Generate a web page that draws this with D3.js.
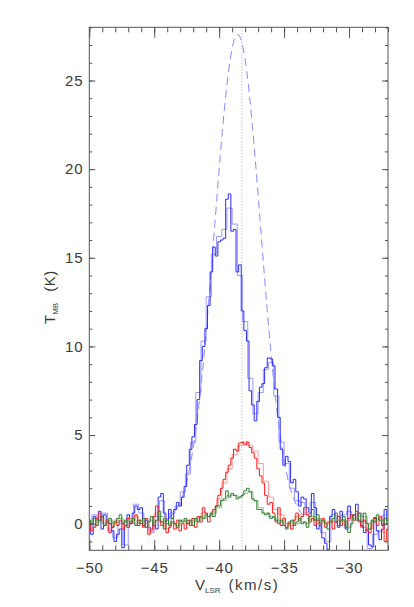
<!DOCTYPE html>
<html>
<head>
<meta charset="utf-8">
<script src="https://cdn.jsdelivr.net/npm/d3@7"></script>
<style>
html,body{margin:0;padding:0;background:#fff;}
svg text{font-family:"Liberation Sans",Arial,sans-serif;fill:#3a3a3a;}
</style>
</head>
<body>
<svg id="chart" width="414" height="607"></svg>
<script>
// ---- data ----
const chanStart = -50.0, chanStep = 0.2;        // main spectra channel grid
const lightStart = -50.0, lightStep = 0.4;      // lighter overlay spectra grid
const blueT = [0.1,-0.6,0.4,0.2,0.7,-0.3,0.5,0.1,0.0,-0.4,
  -1.0,-0.6,-0.3,-1.35,-0.1,0.5,0.0,0.6,1.0,0.8,
  0.9,-0.1,0.2,-0.2,-0.4,0.2,-0.3,1.5,1.7,0.6,
  0.0,0.8,0.3,0.8,1.2,1.0,1.5,2.1,3.3,4.2,
  4.9,5.6,7.0,9.2,10.0,11.0,12.3,14.2,15.6,15.1,
  15.9,16.0,16.1,18.3,18.6,16.5,16.6,14.2,14.6,12.0,
  10.9,10.3,7.5,6.7,5.8,6.9,7.7,7.9,8.8,9.35,
  9.3,8.9,7.6,6.0,4.2,3.3,3.8,3.5,2.3,2.5,
  1.8,1.0,1.5,1.4,0.9,0.6,1.7,0.9,-0.3,-0.1,
  -0.8,-1.1,-1.45,0.4,0.8,0.1,-0.2,0.7,0.2,-0.3,
  1.0,0.3,0.5,1.1,0.2,-0.1,-0.5,-0.3,-1.2,-1.3,
  0.35,-0.4,-0.9,-0.3,0.8,0.2];
const redT = [0.1,-0.4,-0.2,0.3,0.6,0.1,-0.1,0.2,-0.5,-0.2,
  0.1,-0.1,0.2,-0.3,0.1,0.3,0.0,0.2,0.5,-0.1,
  0.2,-0.2,0.3,-0.6,-0.3,0.4,1.0,0.2,-0.1,0.3,
  -0.5,-0.2,0.1,-0.3,0.2,-0.4,0.0,-0.3,0.2,-0.1,
  0.3,-0.2,0.4,0.1,0.9,0.6,0.1,0.5,0.8,1.0,
  1.6,2.0,2.5,2.9,3.3,3.7,4.2,4.1,4.55,4.6,
  4.45,4.6,4.3,4.0,3.7,3.1,2.7,2.3,1.6,1.1,
  1.2,0.6,0.1,0.9,-0.1,0.3,-0.2,0.1,-0.3,0.2,
  0.6,0.2,0.4,0.9,0.5,0.1,0.3,-0.1,0.2,0.0,
  0.3,-0.2,0.1,0.2,-0.3,0.1,0.4,-0.1,0.2,-0.2,
  0.3,0.5,0.2,0.7,0.1,-0.2,0.2,-0.4,-0.5,0.1,
  0.3,-0.1,0.4,0.2,-1.0,-0.3];
const greenT = [0.2,0.0,0.3,-0.1,0.2,0.4,-0.1,0.1,0.3,-0.2,
  0.1,0.3,0.5,0.0,0.2,-0.2,0.1,0.3,-0.1,0.2,
  0.0,0.3,-0.2,0.1,0.4,-0.1,0.2,0.7,0.1,-0.3,
  0.2,-0.1,0.3,0.0,-0.2,0.2,0.1,0.3,0.0,0.2,
  -0.1,0.3,0.1,0.4,0.3,0.5,0.4,0.6,0.4,1.0,
  1.0,1.3,1.4,1.85,1.5,1.7,1.6,1.4,1.5,1.6,
  1.85,2.0,1.8,1.4,1.3,0.8,0.8,0.6,0.5,0.6,
  0.3,0.4,0.2,0.0,0.2,-0.1,-0.3,0.0,0.2,-0.1,
  0.1,0.3,0.0,0.1,-0.2,0.4,0.8,0.2,0.5,-0.1,
  0.2,0.0,-0.3,0.1,0.3,0.6,-0.1,0.2,0.4,-0.2,
  -0.5,0.0,0.5,0.2,0.6,0.1,0.6,0.0,-0.3,0.2,
  0.1,0.5,0.2,-0.1,0.3,0.0];
const lightBlueT = [-0.3,0.5,0.2,0.6,-0.4,-0.8,0.1,-1.2,0.3,1.1,
  0.6,0.0,-0.5,0.4,1.3,0.3,0.6,1.0,1.8,2.8,
  4.6,7.4,10.3,12.8,15.2,16.2,16.6,17.8,16.9,14.0,
  11.4,8.2,6.2,7.4,8.7,9.1,7.2,4.6,3.4,2.0,
  1.3,1.2,0.5,1.2,0.2,-0.5,-1.0,0.5,0.1,0.5,
  0.7,0.3,0.6,-0.2,-1.4,-0.6,-0.4,0.5];
const lightRedT = [0.2,-0.1,0.4,0.0,-0.3,0.2,0.0,-0.2,0.3,0.4,
  0.0,0.1,-0.4,0.6,0.1,-0.3,0.0,-0.1,0.1,0.0,
  0.2,0.3,0.6,0.4,0.7,1.4,2.3,3.1,3.9,4.4,
  4.6,4.4,4.1,3.4,2.4,1.5,0.8,0.5,0.0,-0.1,
  0.4,0.5,0.6,0.2,0.0,0.2,0.0,0.1,0.2,0.1,
  0.2,0.4,0.5,0.1,-0.3,0.2,0.3,-0.5];
const lightGreenT = [0.1,0.2,0.1,0.0,0.2,0.0,0.3,0.1,0.2,0.0,
  0.1,0.0,0.2,0.1,0.4,0.0,0.1,0.0,0.2,0.1,
  0.1,0.2,0.3,0.4,0.6,0.9,1.3,1.6,1.6,1.5,
  1.7,1.8,1.3,0.9,0.6,0.4,0.3,0.1,0.0,0.1,
  0.0,0.1,0.0,0.4,0.3,0.1,0.0,0.2,0.2,0.2,
  -0.2,0.3,0.4,0.4,0.0,0.2,0.2,0.1];
// Gaussian fit (dashed), read at 0.5 km/s from -44 to -33
const fitV = [-44,-43.5,-43,-42.5,-42,-41.5,-41,-40.5,-40,-39.5,-39,-38.5,-38,-37.5,-37,-36.5,-36,-35.5,-35,-34.5,-34,-33.5,-33];
const fitT = [0.25,0.58,1.22,2.38,4.27,7.08,10.84,15.33,20.01,24.11,26.83,27.57,26.16,22.91,18.53,13.84,9.54,6.07,3.57,1.94,0.97,0.45,0.19];
const centerV = -38.25;
const xTicks = [-50,-45,-40,-35,-30];
const yTicks = [0,5,10,15,20,25];
const xDomain = [-50,-27], yDomain = [-1.5,28];

// ---- layout ----
const L = 89.3, R = 388, T = 27.3, B = 550.3;
const svg = d3.select("#chart");
const x = d3.scaleLinear().domain(xDomain).range([L,R]);
const y = d3.scaleLinear().domain(yDomain).range([B,T]);

svg.append("defs").append("clipPath").attr("id","clip")
  .append("rect").attr("x",L).attr("y",T).attr("width",R-L).attr("height",B-T);
const plot = svg.append("g").attr("clip-path","url(#clip)");

const toPts = (arr,start,step) => arr.map((t,i)=>[start+step*i,t]);
const stepLine = d3.line().x(d=>x(d[0])).y(d=>y(d[1])).curve(d3.curveStep);

// dashed fit
plot.append("path")
  .attr("d", d3.line().x(d=>x(d[0])).y(d=>y(d[1])).curve(d3.curveNatural)(fitV.map((v,i)=>[v,fitT[i]])))
  .attr("fill","none").attr("stroke","#8888ff").attr("stroke-width",1).attr("stroke-dasharray","8,5");
// dotted centre
plot.append("line").attr("x1",x(centerV)).attr("x2",x(centerV)).attr("y1",T).attr("y2",B)
  .attr("stroke","#aaaaaa").attr("stroke-width",1).attr("stroke-dasharray","1,2");

const series = [
  {d: toPts(lightBlueT,lightStart,lightStep), c:"#9a9aff"},
  {d: toPts(blueT,chanStart,chanStep), c:"#2a2aff"},
  {d: toPts(lightRedT,lightStart,lightStep), c:"#ff9a9a"},
  {d: toPts(redT,chanStart,chanStep), c:"#ff1a1a"},
  {d: toPts(lightGreenT,lightStart,lightStep), c:"#8fbf8f"},
  {d: toPts(greenT,chanStart,chanStep), c:"#2e7d2e"}
];
series.forEach(s=>{
  plot.append("path").attr("d",stepLine(s.d)).attr("fill","none")
    .attr("stroke",s.c).attr("stroke-width",1);
});

// ---- axes ----
const axisColor = "#555";
function styleAxis(g){
  g.select(".domain").remove();
  g.selectAll("line").attr("stroke",axisColor);
  g.selectAll("text").style("font-size","15px").style("letter-spacing","0.8px");
}
const xMinor = d3.range(-50,-26,1);
const yMinor = d3.range(-1,29,1);
svg.append("g").attr("transform",`translate(0,${B})`)
  .call(d3.axisBottom(x).tickValues(xTicks).tickSize(-10.5).tickPadding(12).tickFormat(d3.format("d"))).call(styleAxis);
svg.append("g").attr("transform",`translate(0,${B})`)
  .call(d3.axisBottom(x).tickValues(xMinor).tickSize(-5).tickFormat("")).call(styleAxis);
svg.append("g").attr("transform",`translate(0,${T})`)
  .call(d3.axisTop(x).tickValues(xTicks).tickSize(-10.5).tickFormat("")).call(styleAxis);
svg.append("g").attr("transform",`translate(0,${T})`)
  .call(d3.axisTop(x).tickValues(xMinor).tickSize(-5).tickFormat("")).call(styleAxis);
svg.append("g").attr("transform",`translate(${L},0)`)
  .call(d3.axisLeft(y).tickValues(yTicks).tickSize(-6).tickPadding(6).tickFormat(d3.format("d"))).call(styleAxis);
svg.append("g").attr("transform",`translate(${L},0)`)
  .call(d3.axisLeft(y).tickValues(yMinor).tickSize(-3).tickFormat("")).call(styleAxis);
svg.append("g").attr("transform",`translate(${R},0)`)
  .call(d3.axisRight(y).tickValues(yTicks).tickSize(-6).tickFormat("")).call(styleAxis);
svg.append("g").attr("transform",`translate(${R},0)`)
  .call(d3.axisRight(y).tickValues(yMinor).tickSize(-3).tickFormat("")).call(styleAxis);
// frame
svg.append("rect").attr("x",L).attr("y",T).attr("width",R-L).attr("height",B-T)
  .attr("fill","none").attr("stroke",axisColor).attr("stroke-width",1);

// titles
const xt = svg.append("text").attr("x",195).attr("y",590).attr("text-anchor","start").style("font-size","15px");
xt.append("tspan").text("V");
xt.append("tspan").text("LSR").style("font-size","8px").attr("dy",2.5);
xt.append("tspan").text("(km/s)").attr("dy",-2.5).attr("dx",8).style("letter-spacing","1.5px");
const yt = svg.append("text").attr("transform",`translate(55,324) rotate(-90)`).attr("text-anchor","start").style("font-size","15px");
yt.append("tspan").text("T");
yt.append("tspan").text("MB").style("font-size","8px").attr("dy",2.5);
yt.append("tspan").text("(K)").attr("dy",-2.5).attr("dx",11).style("letter-spacing","0.5px");
</script>
</body>
</html>
